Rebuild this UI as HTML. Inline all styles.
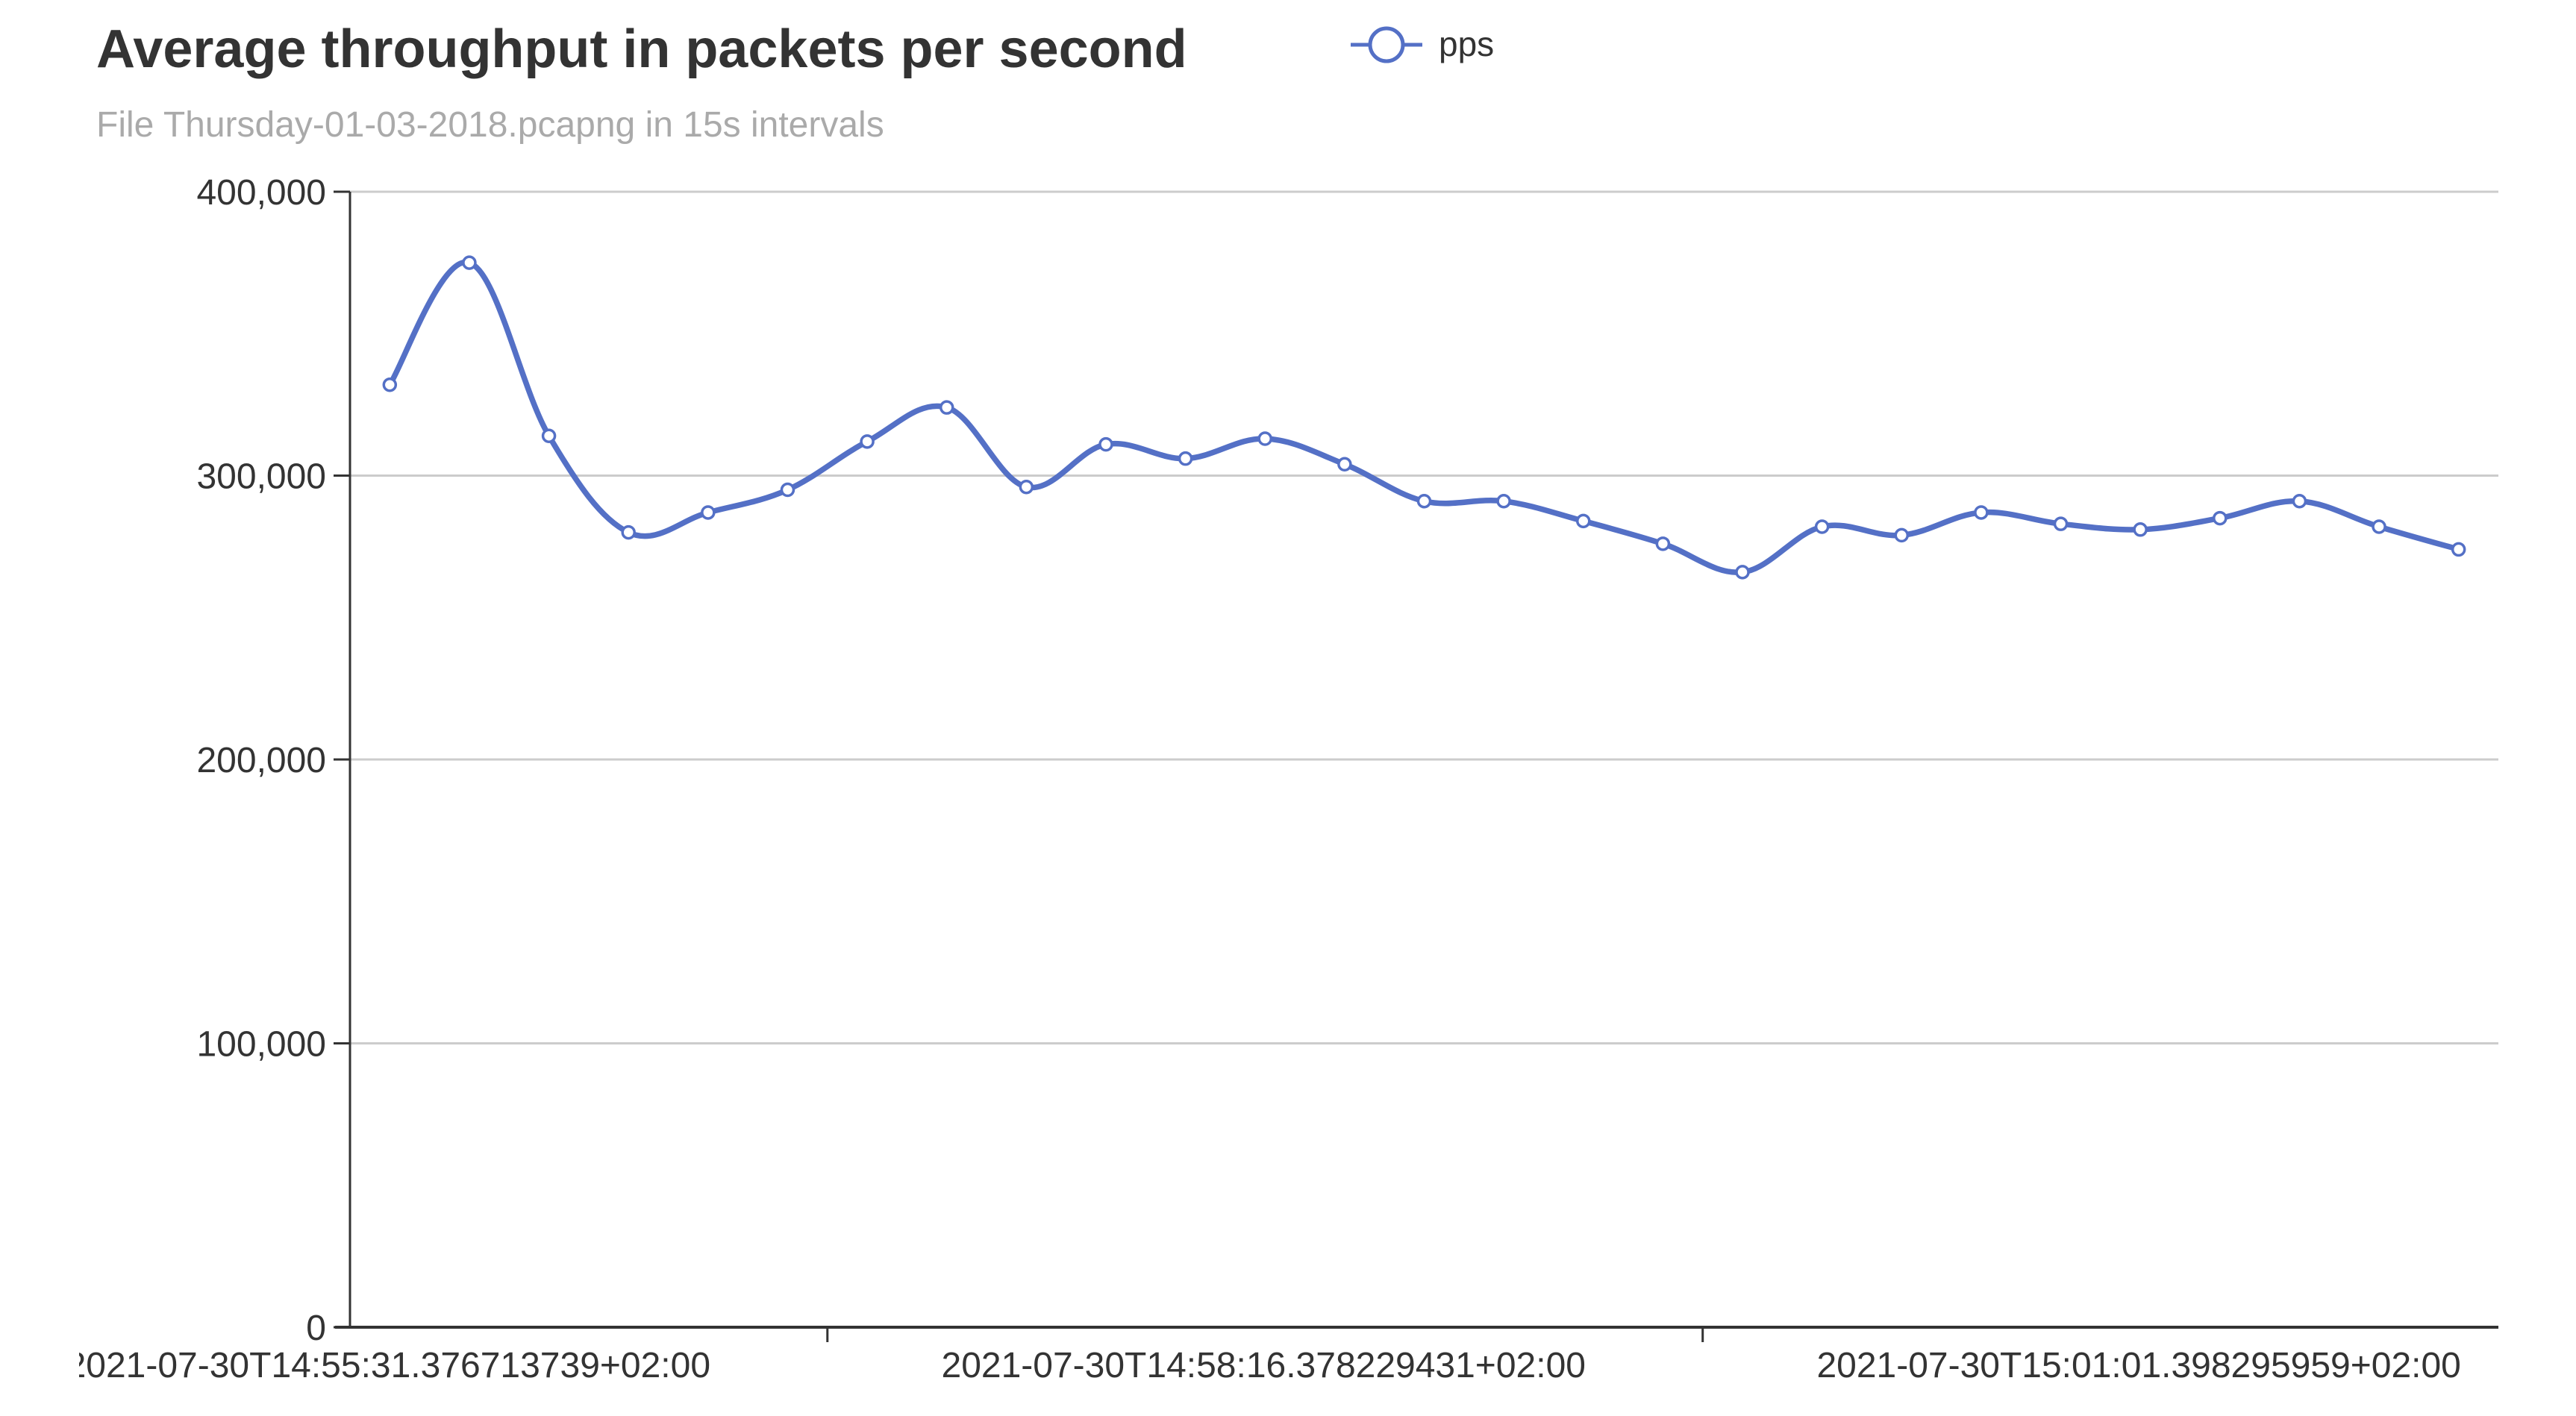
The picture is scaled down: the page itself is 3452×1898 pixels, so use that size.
<!DOCTYPE html>
<html><head><meta charset="utf-8"><style>
html,body{margin:0;padding:0;background:#fff;}
svg{display:block;font-family:"Liberation Sans",Arial,sans-serif;}
</style></head><body>
<svg id="chart" width="3452" height="1898" viewBox="0 0 3452 1898">
<defs><clipPath id="lblclip"><rect x="106" y="0" width="3346" height="1898"/></clipPath></defs>
<text x="129" y="90" font-size="72" font-weight="bold" fill="#333">Average throughput in packets per second</text>
<text x="129" y="183" font-size="48" fill="#aaa">File Thursday-01-03-2018.pcapng in 15s intervals</text>
<g>
<line x1="1810" y1="60" x2="1906" y2="60" stroke="#5470c6" stroke-width="5"/>
<circle cx="1858" cy="60" r="22" fill="#fff" stroke="#5470c6" stroke-width="5"/>
<text x="1928" y="75" font-size="46" fill="#333">pps</text>
</g>
<g id="grid"></g><g id="axes"></g><g id="xlabels" clip-path="url(#lblclip)"></g><g id="series"></g>
</svg>
<script>
const categories = [
"2021-07-30T14:55:31.376713739+02:00","2021-07-30T14:55:46.377065119+02:00","2021-07-30T14:56:01.377210447+02:00",
"2021-07-30T14:56:16.377342861+02:00","2021-07-30T14:56:31.377480245+02:00","2021-07-30T14:56:46.377601093+02:00",
"2021-07-30T14:57:01.377733530+02:00","2021-07-30T14:57:16.377852018+02:00","2021-07-30T14:57:31.377970332+02:00",
"2021-07-30T14:57:46.378088617+02:00","2021-07-30T14:58:01.378162904+02:00","2021-07-30T14:58:16.378229431+02:00",
"2021-07-30T14:58:31.378310552+02:00","2021-07-30T14:58:46.378401280+02:00","2021-07-30T14:59:01.378500611+02:00",
"2021-07-30T14:59:16.378620017+02:00","2021-07-30T14:59:31.378744409+02:00","2021-07-30T14:59:46.378890125+02:00",
"2021-07-30T15:00:01.379021774+02:00","2021-07-30T15:00:16.379150233+02:00","2021-07-30T15:00:31.379301118+02:00",
"2021-07-30T15:00:46.379442260+02:00","2021-07-30T15:01:01.398295959+02:00","2021-07-30T15:01:16.398410322+02:00",
"2021-07-30T15:01:31.398530874+02:00","2021-07-30T15:01:46.398651207+02:00","2021-07-30T15:02:01.398772990+02:00"];
const ppsValues = [332000,375000,314000,280000,287000,295000,312000,324000,296000,311000,306000,313000,304000,291000,291000,284000,276000,266000,282000,279000,287000,283000,281000,285000,291000,282000,274000];
const yTicks = [0,100000,200000,300000,400000];
const labelEvery = 11;

const NS="http://www.w3.org/2000/svg";
const L=469,R=3348,T=257,B=1779,yMax=400000;
const band=(R-L)/categories.length;
const xs=i=>L+band*(i+0.5);
const ys=v=>B-(v/yMax)*(B-T);
function mk(tag,attrs,parent,text){const e=document.createElementNS(NS,tag);for(const k in attrs)e.setAttribute(k,attrs[k]);if(text!==undefined)e.textContent=text;parent.appendChild(e);return e;}
const grid=document.getElementById('grid'),axes=document.getElementById('axes'),series=document.getElementById('series'),xl=document.getElementById('xlabels');
yTicks.forEach(v=>{
  if(v>0){const g=mk('line',{x1:L,x2:R,y1:ys(v),y2:ys(v),stroke:'#ccc','stroke-width':3},grid);
  
  }
  mk('line',{x1:L-22,x2:L,y1:ys(v),y2:ys(v),stroke:'#333','stroke-width':3},axes);
  const t=mk('text',{x:L-32,y:ys(v)+17,'text-anchor':'end','font-size':48,fill:'#333'},axes,v.toLocaleString('en-US'));
  
  
});
const ya=mk('line',{x1:L,x2:L,y1:T,y2:B,stroke:'#333','stroke-width':3},axes);


const xa=mk('line',{x1:L-20,x2:R,y1:B,y2:B,stroke:'#333','stroke-width':4},axes);


categories.forEach((c,i)=>{
  if(i%labelEvery!==0)return;
  if(i>0) mk('line',{x1:L+band*(i-5),x2:L+band*(i-5),y1:B,y2:B+20,stroke:'#333','stroke-width':3},axes);
  const t=mk('text',{x:xs(i)-2,y:B+67,'text-anchor':'middle','font-size':48,fill:'#333'},xl,c);
  
  
});
const pts=ppsValues.map((v,i)=>[xs(i),ys(v)]);
let d='M'+pts[0][0]+','+pts[0][1];
const s=0.35;
for(let i=0;i<pts.length-1;i++){
  const p0=pts[Math.max(i-1,0)],p1=pts[i],p2=pts[i+1],p3=pts[Math.min(i+2,pts.length-1)];
  const c1=[p1[0]+(p2[0]-p0[0])*s/2,p1[1]+(p2[1]-p0[1])*s/2];
  const c2=[p2[0]-(p3[0]-p1[0])*s/2,p2[1]-(p3[1]-p1[1])*s/2];
  d+=' C'+c1[0]+','+c1[1]+' '+c2[0]+','+c2[1]+' '+p2[0]+','+p2[1];
}
const line=mk('path',{d:d,fill:'none',stroke:'#5470c6','stroke-width':7.5,'stroke-linejoin':'round'},series);


pts.forEach(p=>{
  const c=mk('circle',{cx:p[0],cy:p[1],r:8,fill:'#fff',stroke:'#5470c6','stroke-width':3.5},series);
  
  
});
</script>
</body></html>
